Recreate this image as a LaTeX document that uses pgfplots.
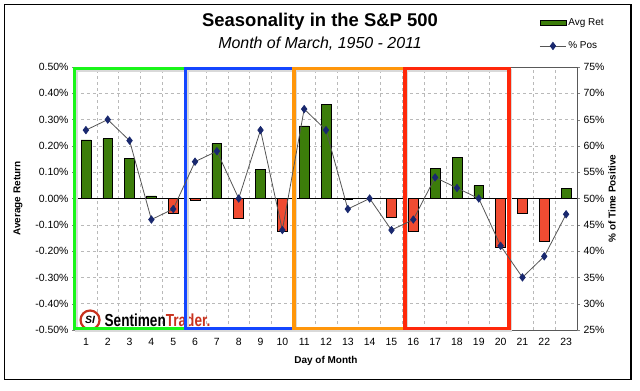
\documentclass[border=0pt]{standalone}
\usepackage{pgfplots}
\pgfplotsset{compat=1.18}
\usepackage{fontspec}
\setmainfont{Liberation Sans}
\definecolor{barG}{RGB}{60,125,10}
\definecolor{barR}{RGB}{240,76,50}
\definecolor{lineC}{RGB}{85,85,85}
\definecolor{markC}{RGB}{25,40,110}
\definecolor{boxG}{RGB}{25,245,25}
\definecolor{boxB}{RGB}{20,70,255}
\definecolor{boxO}{RGB}{255,150,10}
\definecolor{boxR}{RGB}{255,40,10}
\definecolor{logoR}{RGB}{200,50,30}
\begin{document}
\begin{tikzpicture}[x=1bp,y=1bp]
\useasboundingbox (0,0) rectangle (640,390);
\draw[line width=1.2bp] (4.5,10.5) rectangle (631,385.5);
\node[font=\fontsize{18.5}{20}\selectfont\bfseries] at (320,368) {Seasonality in the S\&P 500};
\node[font=\fontsize{16}{18}\selectfont\itshape] at (320,346) {Month of March, 1950 - 2011};

\begin{axis}[
  at={(75bp,60bp)}, anchor=south west, scale only axis,
  width=502bp, height=263bp,
  xmin=0.5, xmax=23.5, ymin=-0.5, ymax=0.5,
  clip=false,
  /pgf/number format/assume math mode=true,
  tick label style={font=\fontsize{10.5}{12}\selectfont},
  xtick={1,...,23}, xtick pos=bottom, xtick style={draw=none},
  xticklabel style={yshift=-1.5bp},
  minor xtick={0.5,1.5,...,23.5}, xminorgrids=true, minor tick length=0pt,
  ytick={-0.5,-0.4,-0.3,-0.2,-0.1,0,0.1,0.2,0.3,0.4,0.5},
  yticklabels={-0.50\%,-0.40\%,-0.30\%,-0.20\%,-0.10\%,0.00\%,0.10\%,0.20\%,0.30\%,0.40\%,0.50\%},
  ytick pos=left, ymajorgrids=true,
  major tick length=3bp, tick align=outside,
  grid style={gray!55, dashed, line width=0.5bp},
  axis line style={black!65},
  every axis y label/.style={at={(axis description cs:-0.1135,0.5)}, rotate=90, anchor=center},
  every axis x label/.style={at={(axis description cs:0.5,-0.118)}, anchor=center},
  ylabel={\fontsize{10}{12}\selectfont\bfseries Average Return},
  xlabel={\fontsize{10}{12}\selectfont\bfseries Day of Month},
]
\draw[black, line width=0.8bp] (axis cs:0.5,0) -- (axis cs:23.5,0);
\addplot[ybar, bar shift=0pt, bar width=0.45, fill=barG, draw=black, line width=0.6bp] coordinates {
 (1,0.223) (2,0.227) (3,0.151) (4,0.010) (7,0.208) (9,0.110) (11,0.276) (12,0.357)
 (14,0.000) (17,0.114) (18,0.156) (19,0.049) (23,0.037)};
\addplot[ybar, bar shift=0pt, bar width=0.45, fill=barR, draw=black, line width=0.6bp] coordinates {
 (5,-0.057) (6,-0.006) (8,-0.074) (10,-0.123) (13,-0.002) (15,-0.072) (16,-0.123)
 (20,-0.184) (21,-0.057) (22,-0.163)};
% logo
\node[circle, draw=logoR, line width=2.2bp, fill=white, inner sep=0pt, minimum size=19bp,
      font=\fontsize{10.5}{10}\selectfont\bfseries\itshape] at (axis cs:1.19,-0.462) {SI};
\node[anchor=west, inner sep=0pt, font=\fontsize{17.5}{17}\selectfont\bfseries, xscale=0.78] at (axis cs:1.85,-0.462)
  {Sentimen\textcolor{logoR}{Trader.}};
% shaded boxes
\begin{scope}[line width=3.2bp, gray!30, shift={(1.8bp,-1.8bp)}]
\draw (axis cs:0.48,0.495) rectangle (axis cs:5.58,-0.495);
\draw (axis cs:5.58,0.495) rectangle (axis cs:10.53,-0.495);
\draw (axis cs:10.53,0.495) rectangle (axis cs:15.62,-0.495);
\draw (axis cs:15.62,0.495) rectangle (axis cs:20.38,-0.495);
\end{scope}
\draw[boxG, line width=3.2bp] (axis cs:0.48,0.495) rectangle (axis cs:5.58,-0.495);
\draw[boxB, line width=3.2bp] (axis cs:5.58,0.495) rectangle (axis cs:10.53,-0.495);
\draw[boxO, line width=3.2bp] (axis cs:10.53,0.495) rectangle (axis cs:15.62,-0.495);
\draw[boxR, line width=3.2bp] (axis cs:15.62,0.495) rectangle (axis cs:20.38,-0.495);
\end{axis}

\begin{axis}[
  at={(75bp,60bp)}, anchor=south west, scale only axis,
  width=502bp, height=263bp,
  xmin=0.5, xmax=23.5, ymin=25, ymax=75,
  axis x line=none, axis y line*=right,
  /pgf/number format/assume math mode=true,
  tick label style={font=\fontsize{10.5}{12}\selectfont},
  ytick={25,30,35,40,45,50,55,60,65,70,75},
  yticklabels={25\%,30\%,35\%,40\%,45\%,50\%,55\%,60\%,65\%,70\%,75\%},
  major tick length=3bp, tick align=outside,
  axis line style={black!65},
  every axis y label/.style={at={(axis description cs:1.0697,0.5)}, rotate=90, anchor=center},
  ylabel={\fontsize{10}{12}\selectfont\bfseries \% of Time Positive},
  legend style={at={(axis description cs:0.925,1.193)}, anchor=north west, draw=none, fill=none,
     font=\fontsize{10}{12}\selectfont, row sep=11bp, inner sep=0pt},
  legend cell align=left,
  legend image code/.code={\draw[mark repeat=2,mark phase=2,#1] plot coordinates {(0bp,0bp) (13bp,0bp) (26bp,0bp)};},
]
\addlegendimage{legend image code/.code={\draw[fill=barG, draw=black, line width=0.6bp] (0bp,-2.5bp) rectangle (26bp,2.5bp);}}
\addlegendentry{Avg Ret}
\addplot[lineC, line width=0.8bp, mark=diamond*, mark size=3.6bp, mark options={fill=markC, draw=markC}] coordinates {
 (1,63) (2,65) (3,61) (4,46) (5,48) (6,57) (7,59) (8,50) (9,63) (10,44) (11,67) (12,63)
 (13,48) (14,50) (15,44) (16,46) (17,54) (18,52) (19,50) (20,41) (21,35) (22,39) (23,47)};
\addlegendentry{\% Pos}
\end{axis}
\end{tikzpicture}
\end{document}
